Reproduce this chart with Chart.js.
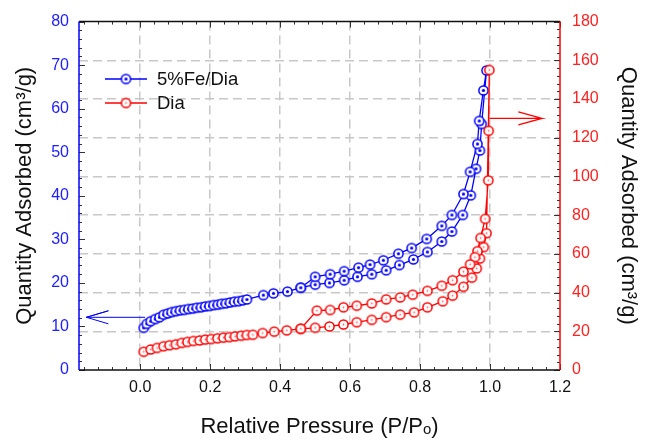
<!DOCTYPE html>
<html>
<head>
<meta charset="utf-8">
<script src="https://cdn.jsdelivr.net/npm/chart.js@4.4.1/dist/chart.umd.min.js"></script>
<style>
  html, body { margin: 0; padding: 0; background: #fff; }
  #graphCanvas { display: block; }
</style>
</head>
<body>
<canvas id="graphCanvas" width="648" height="441"></canvas>
<script>
// 5%Fe/Dia isotherm, left axis (cm3/g)
var feAdsP = [0.010,0.019,0.030,0.043,0.055,0.067,0.079,0.090,0.102,0.114,0.126,0.138,0.150,0.162,0.174,0.186,0.198,0.210,0.222,0.233,0.245,0.257,0.269,0.281,0.293,0.305,0.352,0.381,0.421,0.459,0.500,0.541,0.583,0.621,0.662,0.703,0.741,0.781,0.821,0.862,0.891,0.922,0.945,0.960,0.971,0.976,0.990];
var feAdsQ = [9.7,10.6,11.2,11.7,12.1,12.7,13.0,13.3,13.5,13.7,13.8,14.0,14.1,14.3,14.4,14.6,14.7,14.9,15.0,15.2,15.3,15.5,15.7,15.8,16.0,16.2,17.2,17.6,18.0,18.9,19.6,20.0,20.6,21.4,22.0,22.9,24.1,25.4,27.1,29.5,31.8,35.6,40.1,46.2,50.4,56.5,68.8];
var feDesP = [0.981,0.969,0.964,0.943,0.924,0.891,0.862,0.819,0.776,0.738,0.695,0.657,0.624,0.583,0.543,0.500,0.459];
var feDesQ = [64.2,57.2,51.9,45.5,40.4,35.6,33.1,30.1,28.0,26.7,25.2,24.2,23.5,22.7,22.0,21.4,18.9];

// Dia isotherm, right axis (cm3/g)
var diaAdsP = [0.010,0.030,0.048,0.067,0.084,0.102,0.119,0.135,0.152,0.170,0.186,0.203,0.221,0.238,0.255,0.271,0.289,0.305,0.322,0.350,0.383,0.419,0.459,0.500,0.541,0.581,0.619,0.662,0.703,0.743,0.783,0.821,0.865,0.893,0.924,0.948,0.962,0.971,0.982,0.990,0.998];
var diaAdsQ = [9.4,10.6,11.4,12.3,12.8,13.3,14.0,14.5,15.0,15.3,15.7,16.0,16.4,16.7,17.0,17.4,17.7,18.1,18.2,19.1,19.8,20.5,21.3,21.8,22.5,23.5,24.7,25.9,27.3,28.6,29.8,32.4,35.5,38.4,43.0,47.7,52.5,57.6,63.5,70.7,155];
var diaDesP = [0.996,0.995,0.986,0.973,0.964,0.957,0.943,0.924,0.893,0.862,0.821,0.779,0.743,0.703,0.662,0.619,0.581,0.543,0.505,0.459];
var diaDesQ = [123.6,98.0,78.1,68.2,61.4,58.3,54.6,50.8,46.4,43.5,40.9,38.9,37.5,36.5,34.4,33.2,32.4,31.0,30.7,21.3];

// arrows telling which axis belongs to which curve
var feArrowP = [0.014,-0.154,-0.091,-0.154,-0.091];
var feArrowQ = [12.1,12.1,13.6,12.1,10.6];
var diaArrowP = [0.998,1.148,1.081,1.148,1.081];
var diaArrowQ = [130,130,133.4,130,126.6];

var xTicks = [0,0.2,0.4,0.6,0.8,1.0,1.2];
var leftTicks = [0,10,20,30,40,50,60,70,80];
var rightTicks = [0,20,40,60,80,100,120,140,160,180];

var seriesNames = ['5%Fe/Dia','Dia'];
var BLUE = '#0000ff', RED = '#ff0000';
var FONT = "'Liberation Sans', Arial, sans-serif";

function pts(xs, ys) {
  var out = [];
  for (var i = 0; i < xs.length; i++) out.push({x: xs[i], y: ys[i]});
  return out;
}

// open circle marker with a dot in the middle
function marker(color, dotR, dotAlpha) {
  var c = document.createElement('canvas');
  c.width = 13; c.height = 13;
  var g = c.getContext('2d');
  g.beginPath();
  g.arc(6.5, 6.5, 4.6, 0, Math.PI*2);
  g.fillStyle = '#fff';
  g.fill();
  g.lineWidth = 1.5;
  g.strokeStyle = color;
  g.stroke();
  g.globalAlpha = dotAlpha;
  g.beginPath();
  g.arc(6.5, 6.5, dotR, 0, Math.PI*2);
  g.fillStyle = color;
  g.fill();
  return c;
}
var blueMark = marker(BLUE, 1.6, 1);
var redMark = marker(RED, 0.9, 0.6);

var framePlugin = {
  id: 'frame',
  afterDatasetsDraw: function(chart) {
    var ctx = chart.ctx, a = chart.chartArea;
    var sx = chart.scales.x, sl = chart.scales.y, sr = chart.scales.y2;
    var i, p, len;
    ctx.save();
    ctx.lineWidth = 1;
    ctx.strokeStyle = '#333';
    ctx.beginPath();
    for (i = -4; i <= 30; i++) {
      p = Math.round(sx.getPixelForValue(i*0.04)) + 0.5;
      len = (i % 5 === 0) ? 6 : 3;
      ctx.moveTo(p, a.top); ctx.lineTo(p, a.top + len);
      ctx.moveTo(p, a.bottom); ctx.lineTo(p, a.bottom - len);
    }
    for (i = 0; i <= 40; i++) {
      p = Math.round(sl.getPixelForValue(i*2)) + 0.5;
      len = (i % 5 === 0) ? 6 : 3;
      ctx.moveTo(a.left, p); ctx.lineTo(a.left + len, p);
    }
    for (i = 0; i <= 45; i++) {
      p = Math.round(sr.getPixelForValue(i*4)) + 0.5;
      len = (i % 5 === 0) ? 6 : 3;
      ctx.moveTo(a.right, p); ctx.lineTo(a.right - len, p);
    }
    ctx.stroke();

    ctx.lineWidth = 1.5;
    ctx.strokeStyle = '#111';
    ctx.beginPath();
    ctx.moveTo(a.left, a.top); ctx.lineTo(a.right, a.top);
    ctx.moveTo(a.left, a.bottom); ctx.lineTo(a.right, a.bottom);
    ctx.stroke();
    ctx.strokeStyle = BLUE;
    ctx.beginPath(); ctx.moveTo(a.left, a.top); ctx.lineTo(a.left, a.bottom); ctx.stroke();
    ctx.strokeStyle = RED;
    ctx.beginPath(); ctx.moveTo(a.right, a.top); ctx.lineTo(a.right, a.bottom); ctx.stroke();

    // legend in the upper left of the plot
    var cols = [BLUE, RED], marks = [blueMark, redMark];
    ctx.font = '18.5px ' + FONT;
    ctx.textBaseline = 'middle';
    ctx.textAlign = 'left';
    for (i = 0; i < 2; i++) {
      var yy = 79 + i*24;
      ctx.strokeStyle = cols[i];
      ctx.lineWidth = 1.3;
      ctx.beginPath(); ctx.moveTo(105, yy); ctx.lineTo(147, yy); ctx.stroke();
      ctx.drawImage(marks[i], 126 - 6.5, yy - 6.5);
      ctx.fillStyle = '#111';
      ctx.fillText(seriesNames[i], 157, yy + 1);
    }
    ctx.restore();
  }
};

function fixTicks(list) {
  return function(s) { s.ticks = list.map(function(v) { return {value: v}; }); };
}

var ctx = document.getElementById('graphCanvas');
var chart = new Chart(ctx, {
  type: 'scatter',
  data: {
    datasets: [
      {
        label: seriesNames[0],
        data: pts(feAdsP.concat(feDesP), feAdsQ.concat(feDesQ)),
        yAxisID: 'y', showLine: true, borderColor: BLUE, borderWidth: 1.3,
        pointStyle: blueMark, pointRadius: 5, order: 2
      },
      {
        label: seriesNames[1],
        data: pts(diaAdsP.concat(diaDesP), diaAdsQ.concat(diaDesQ)),
        yAxisID: 'y2', showLine: true, borderColor: RED, borderWidth: 1.3,
        pointStyle: redMark, pointRadius: 5, order: 1
      },
      {
        label: 'arrow1', data: pts(feArrowP, feArrowQ), yAxisID: 'y',
        showLine: true, borderColor: BLUE, borderWidth: 1, pointRadius: 0, order: 3
      },
      {
        label: 'arrow2', data: pts(diaArrowP, diaArrowQ), yAxisID: 'y2',
        showLine: true, borderColor: RED, borderWidth: 1.3, pointRadius: 0, order: 3
      }
    ]
  },
  options: {
    responsive: false,
    animation: false,
    events: [],
    layout: { padding: { top: 18, left: 0, right: 0, bottom: 0 } },
    plugins: { legend: { display: false }, tooltip: { enabled: false } },
    scales: {
      x: {
        type: 'linear', min: -0.175, max: 1.2,
        afterBuildTicks: fixTicks(xTicks),
        afterFit: function(s) { s.height = 71; },
        grid: {
          color: function(c) { return (c.tick && c.tick.value > 1.1) ? 'rgba(0,0,0,0)' : '#c8c8c8'; },
          lineWidth: 1.5, drawTicks: false
        },
        border: { display: false, dash: [9, 5] },
        ticks: {
          color: '#111', padding: 8, font: { family: FONT, size: 16 },
          callback: function(v) { return Number(v).toFixed(1); }
        },
        title: {
          display: true, text: 'Relative Pressure (P/Pₒ)', color: '#111',
          font: { family: FONT, size: 22 }, padding: { top: 0, bottom: 1 }
        }
      },
      y: {
        type: 'linear', position: 'left', min: 0, max: 80,
        afterBuildTicks: fixTicks(leftTicks),
        afterFit: function(s) { s.width = 79; },
        grid: { display: false, drawTicks: false },
        border: { display: false },
        ticks: { color: '#2020ff', padding: 10, font: { family: FONT, size: 16 } },
        title: {
          display: true, text: 'Quantity Adsorbed (cm³/g)', color: '#111',
          font: { family: FONT, size: 22 }, padding: { top: 12, bottom: 0 }
        }
      },
      y2: {
        type: 'linear', position: 'right', min: 0, max: 180,
        afterBuildTicks: fixTicks(rightTicks),
        afterFit: function(s) { s.width = 88; },
        grid: {
          drawOnChartArea: true, drawTicks: false, lineWidth: 1.5,
          color: function(c) {
            var v = c.tick ? c.tick.value : 0;
            return (v <= 0 || v >= 180) ? 'rgba(0,0,0,0)' : '#c8c8c8';
          }
        },
        border: { display: false, dash: [9, 5] },
        ticks: { color: '#ff2020', padding: 12, font: { family: FONT, size: 16 } },
        title: {
          display: true, text: 'Quantity Adsorbed (cm³/g)', color: '#111',
          font: { family: FONT, size: 22 }, padding: { top: 7, bottom: 0 }
        }
      }
    }
  },
  plugins: [framePlugin]
});
</script>
</body>
</html>
